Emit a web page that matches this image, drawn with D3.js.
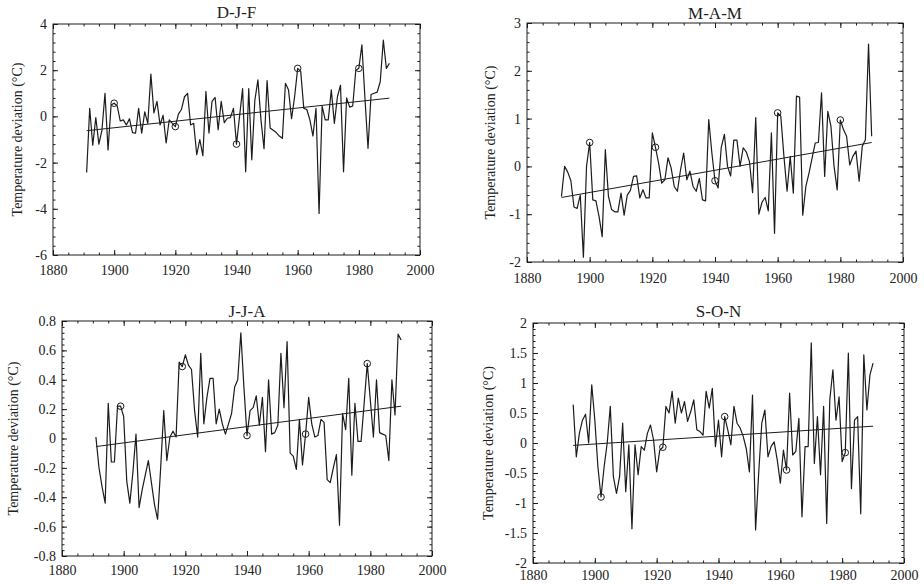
<!DOCTYPE html>
<html>
<head>
<meta charset="utf-8">
<script src="https://cdn.jsdelivr.net/npm/d3@7"></script>
<style>
  html, body { margin: 0; padding: 0; background: #fff; }
  svg { display: block; }
  svg text { font-family: "Liberation Serif", "Times New Roman", serif !important; fill: #222; }
</style>
</head>
<body>
<svg id="chart" width="924" height="584"></svg>
<script>
// Seasonal temperature deviations (°C), one value per year
const titles = ["D-J-F", "M-A-M", "J-J-A", "S-O-N"];
const yAxisTitle = "Temperature deviation (°C)";

const startDJF = 1891;
const djf = [
  -2.43, 0.35, -1.25, -0.05, -1.2, -0.6, 1.0, -1.45, 0.5, 0.57,
  0.45, -0.2, -0.15, -0.37, -0.1, -0.7, -0.72, 0.35, -0.73, 0.2,
  -0.3, 1.83, 0.15, 0.65, -0.37, 0.05, -1.15, -0.15, -0.3, -0.44,
  0.1, 0.3, 0.85, 1.0, -0.37, -0.3, -1.66, -1.0, -1.7, 1.08,
  -0.72, 0.65, 0.82, -0.58, 0.65, -0.27, -0.08, -0.05, 0.35, -1.2,
  0.0, 1.2, -2.4, 1.2, -1.88, 0.7, 1.58, -0.15, -1.4, 1.55,
  -0.5, -0.6, -0.7, -0.85, -0.95, 1.43, 1.15, -0.1, 0.85, 2.08,
  1.95, 0.35, 0.3, -0.15, -0.85, 0.35, -4.2, 0.45, -0.15, -0.15,
  1.15, -0.3, 0.85, 1.35, -2.4, 0.8, 0.4, 0.45, 2.0, 2.08,
  3.1, 0.8, -1.38, 0.95, 1.0, 1.05, 1.5, 3.3, 2.08, 2.3
];

const startMAM = 1891;
const mam = [
  -0.63, 0.0, -0.12, -0.3, -0.85, -0.88, -0.6, -1.9, 0.0, 0.5,
  -0.7, -0.72, -1.05, -1.47, 0.35, -0.63, -0.9, -0.95, -0.95, -0.56,
  -1.02, -0.6, -0.5, -0.21, -0.2, -0.66, -0.49, -0.66, -0.66, 0.7,
  0.4, 0.07, -0.35, -0.28, 0.18, -0.03, -0.42, -0.52, -0.07, 0.28,
  -0.28, -0.1, -0.42, -0.52, -0.25, -0.7, -0.72, 0.98, 0.28, -0.3,
  -0.45, 0.4, 0.67, 0.0, -0.2, 0.55, 0.55, 0.0, 0.39, 0.3,
  0.1, -0.55, 1.02, -1.0, -0.75, -0.65, -0.93, 0.7, -1.4, 1.12,
  1.05, 0.21, -0.52, 0.21, -0.56, 1.47, 1.45, -1.02, -0.42, -0.14,
  0.18, 0.49, 0.5, 1.54, -0.21, 1.15, 0.84, 0.0, -0.49, 0.97,
  0.77, 0.63, 0.03, 0.21, 0.32, -0.31, 0.42, 0.56, 2.56, 0.63
];

const startJJA = 1891;
const jja = [
  0.01, -0.2, -0.33, -0.44, 0.24, -0.16, -0.16, 0.22, 0.22, 0.15,
  -0.29, -0.44, -0.23, 0.03, -0.47, -0.35, -0.25, -0.15, -0.3, -0.45,
  -0.55, -0.2, 0.19, -0.15, 0.01, 0.05, 0.01, 0.52, 0.49, 0.57,
  0.5, 0.47, 0.19, 0.01, 0.58, 0.1, 0.28, 0.41, 0.41, 0.1,
  0.2, 0.1, 0.03, 0.1, 0.17, 0.35, 0.4, 0.72, 0.35, 0.02,
  0.19, 0.21, 0.29, 0.09, 0.28, -0.09, 0.4, 0.03, 0.04, 0.09,
  0.58, 0.21, 0.66, -0.1, -0.12, -0.21, 0.13, -0.18, 0.03, 0.28,
  0.1, 0.01, 0.02, 0.13, 0.11, -0.28, -0.3, -0.2, -0.11, -0.59,
  0.17, 0.06, 0.41, -0.25, 0.24, -0.02, -0.02, 0.24, 0.51, 0.26,
  0.01, 0.4, 0.04, 0.03, 0.02, -0.15, 0.4, 0.16, 0.71, 0.67
];

const startSON = 1893;
const son = [
  0.64, -0.23, 0.16, 0.38, 0.48, 0.0, 0.97, 0.38,
  -0.4, -0.9, -0.4, 0.0, 0.61, -0.56, -0.84, -0.56, 0.33, -0.81,
  -0.03, -1.43, -0.03, -0.53, -0.06, -0.12, 0.16, 0.3, 0.05, -0.48,
  -0.12, -0.07, 0.61, 0.5, 0.86, 0.33, 0.75, 0.5, 0.69, 0.36,
  0.52, 0.72, 0.22, 0.19, 0.13, 0.86, 0.58, 0.91, -0.06, 0.38,
  -0.23, 0.44, 0.22, -0.03, 0.61, 0.33, 0.25, 0.11, -0.1, -0.48,
  0.8, -1.45, -0.5, 0.33, 0.55, -0.23, -0.06, 0.02, -0.28, -0.67,
  -0.12, -0.45, 0.83, -0.2, -0.14, 0.41, -1.23, -0.06, -0.06, 1.67,
  -0.34, 0.44, -0.53, 0.61, -1.34, 0.72, 1.22, 0.38, 0.77, -0.31,
  -0.16, 1.5, -0.76, 0.38, 0.44, -1.18, 1.47, 0.55, 1.14, 1.33
];

// Years marked with an open circle
const markedDJF = [1900, 1920, 1940, 1960, 1980];
const markedMAM = [1900, 1921, 1940, 1960, 1980];
const markedJJA = [1899, 1919, 1940, 1959, 1979];
const markedSON = [1902, 1922, 1942, 1962, 1981];

// Linear trend: value at the first and at the last year
const trendDJF = [-0.62, 0.79];
const trendMAM = [-0.65, 0.5];
const trendJJA = [-0.055, 0.22];
const trendSON = [-0.04, 0.28];

// Axis ticks
const yearTicks = [1880, 1900, 1920, 1940, 1960, 1980, 2000];
const yTicksDJF = [-6, -4, -2, 0, 2, 4];
const yTicksMAM = [-2, -1, 0, 1, 2, 3];
const yTicksJJA = [-0.8, -0.6, -0.4, -0.2, 0, 0.2, 0.4, 0.6, 0.8];
const yTicksSON = [-2, -1.5, -1, -0.5, 0, 0.5, 1, 1.5, 2];

const panels = [
  { title: titles[0], start: startDJF, values: djf, marked: markedDJF, trend: trendDJF, yTicks: yTicksDJF },
  { title: titles[1], start: startMAM, values: mam, marked: markedMAM, trend: trendMAM, yTicks: yTicksMAM },
  { title: titles[2], start: startJJA, values: jja, marked: markedJJA, trend: trendJJA, yTicks: yTicksJJA },
  { title: titles[3], start: startSON, values: son, marked: markedSON, trend: trendSON, yTicks: yTicksSON }
];

// Plot frames: [left, top, right, bottom], title baseline, axis title x, year-label padding
const frames = [
  { box: [53, 24, 420, 255], titleY: 18, ylabX: 17, xPad: 10 },
  { box: [527, 23, 903, 262], titleY: 19, ylabX: 490, xPad: 11 },
  { box: [62, 321, 432, 556], titleY: 317, ylabX: 13, xPad: 9 },
  { box: [533, 323, 904, 563], titleY: 317, ylabX: 488, xPad: 7 }
];

const FONT = '"Liberation Serif", "Times New Roman", serif';
const svg = d3.select("#chart");
svg.append("rect").attr("width", 924).attr("height", 584).attr("fill", "#fff");

const ink = "#1c1c1c";
const fmt = d => String(d);

function minorValues(major, parts) {
  const step = (major[1] - major[0]) / parts;
  const n = Math.round((major[major.length - 1] - major[0]) / step);
  return d3.range(n + 1).map(i => +(major[0] + i * step).toFixed(6));
}

panels.forEach((p, i) => {
  const [x0, y0, x1, y1] = frames[i].box;
  const years = p.values.map((_, k) => p.start + k);
  const x = d3.scaleLinear().domain([yearTicks[0], yearTicks[yearTicks.length - 1]]).range([x0, x1]);
  const y = d3.scaleLinear().domain([p.yTicks[0], p.yTicks[p.yTicks.length - 1]]).range([y1, y0]);

  const g = svg.append("g");

  const xMinor = minorValues(yearTicks, 4);
  const yMinor = minorValues(p.yTicks, 5);

  const styleAxis = sel => {
    sel.attr("font-family", FONT).attr("font-size", 14);
    sel.select(".domain").remove();
    sel.selectAll(".tick line").attr("stroke", ink).attr("stroke-width", 1);
    sel.selectAll(".tick text").attr("font-family", FONT).attr("font-size", 14).attr("fill", "#222");
  };

  // minor ticks on all four sides, pointing inward
  g.append("g").attr("transform", `translate(0,${y1})`)
    .call(d3.axisBottom(x).tickValues(xMinor).tickSize(-2.5).tickFormat("")).call(styleAxis);
  g.append("g").attr("transform", `translate(0,${y0})`)
    .call(d3.axisTop(x).tickValues(xMinor).tickSize(-2.5).tickFormat("")).call(styleAxis);
  g.append("g").attr("transform", `translate(${x0},0)`)
    .call(d3.axisLeft(y).tickValues(yMinor).tickSize(-2.5).tickFormat("")).call(styleAxis);
  g.append("g").attr("transform", `translate(${x1},0)`)
    .call(d3.axisRight(y).tickValues(yMinor).tickSize(-2.5).tickFormat("")).call(styleAxis);

  // major ticks and labels
  g.append("g").attr("transform", `translate(0,${y1})`)
    .call(d3.axisBottom(x).tickValues(yearTicks).tickSize(-5).tickPadding(frames[i].xPad).tickFormat(fmt)).call(styleAxis);
  g.append("g").attr("transform", `translate(0,${y0})`)
    .call(d3.axisTop(x).tickValues(yearTicks).tickSize(-5).tickFormat("")).call(styleAxis);
  g.append("g").attr("transform", `translate(${x0},0)`)
    .call(d3.axisLeft(y).tickValues(p.yTicks).tickSize(-5).tickPadding(6).tickFormat(fmt)).call(styleAxis);
  g.append("g").attr("transform", `translate(${x1},0)`)
    .call(d3.axisRight(y).tickValues(p.yTicks).tickSize(-5).tickFormat("")).call(styleAxis);

  // frame
  g.append("rect").attr("x", x0).attr("y", y0).attr("width", x1 - x0).attr("height", y1 - y0)
    .attr("fill", "none").attr("stroke", ink).attr("stroke-width", 1);

  // series line
  const line = d3.line().x((d, k) => x(years[k])).y(d => y(d));
  g.append("path").datum(p.values).attr("d", line)
    .attr("fill", "none").attr("stroke", ink).attr("stroke-width", 1.2).attr("stroke-linejoin", "round");

  // trend line
  g.append("line")
    .attr("x1", x(years[0])).attr("y1", y(p.trend[0]))
    .attr("x2", x(years[years.length - 1])).attr("y2", y(p.trend[1]))
    .attr("stroke", ink).attr("stroke-width", 1);

  // marked years
  g.selectAll("circle.mark").data(p.marked).enter().append("circle")
    .attr("class", "mark")
    .attr("cx", d => x(d)).attr("cy", d => y(p.values[d - p.start]))
    .attr("r", 3.3).attr("fill", "none").attr("stroke", ink).attr("stroke-width", 1);

  // titles
  g.append("text").attr("x", (x0 + x1) / 2).attr("y", frames[i].titleY)
    .attr("text-anchor", "middle").attr("font-family", FONT).attr("font-size", 17).text(p.title);
  g.append("text")
    .attr("transform", `translate(${frames[i].ylabX},${(y0 + y1) / 2}) rotate(-90)`)
    .attr("text-anchor", "middle").attr("dominant-baseline", "central")
    .attr("font-family", FONT).attr("font-size", 14).text(yAxisTitle);
});
</script>
</body>
</html>
